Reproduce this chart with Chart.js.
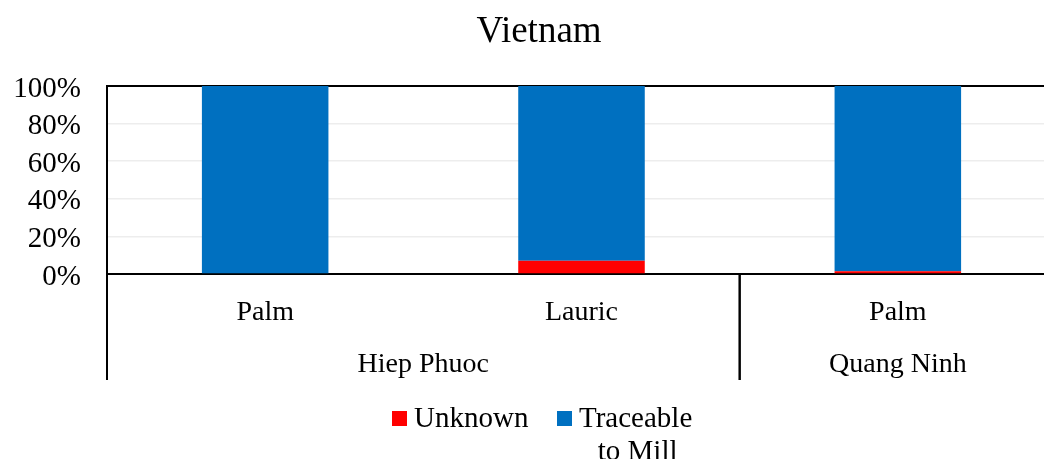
<!DOCTYPE html>
<html><head><meta charset="utf-8">
<script src="https://cdn.jsdelivr.net/npm/chart.js@4/dist/chart.umd.min.js"></script>
<style>html,body{margin:0;padding:0;overflow:hidden;background:#fff;width:1044px;height:459px}#wrap{width:1078px;height:459px;position:relative}</style>
</head><body><div id="wrap"><canvas id="c" width="1078" height="459"></canvas></div>
<script>
const title = "Vietnam";
const categories = ["Palm", "Lauric", "Palm"];
const groups = ["Hiep Phuoc", "Hiep Phuoc", "Quang Ninh"];
const unknownValues = [0, 7, 1.5];
const traceableValues = [100, 93, 98.5];
const seriesNames = ["Unknown", "Traceable\nto Mill"];
const seriesColors = ["#FF0000", "#0070C0"];
const yTicks = [0, 20, 40, 60, 80, 100];

const FONT = "'Liberation Serif', serif";

const multiLevel = {
  id: 'multiLevel',
  afterDraw(chart) {
    const ctx = chart.ctx, x = chart.scales.x, a = chart.chartArea;
    ctx.save();
    ctx.strokeStyle = '#000'; ctx.lineWidth = 2;
    const bottom = 380;
    ctx.fillStyle = '#000'; ctx.textBaseline = 'alphabetic'; ctx.textAlign = 'center';
    // category labels
    ctx.font = '28px ' + FONT;
    categories.forEach((c, i) => ctx.fillText(c, x.getPixelForValue(i), 320));
    // group separators + labels
    const half = (x.getPixelForValue(1) - x.getPixelForValue(0)) / 2;
    let start = 0;
    for (let i = 1; i <= groups.length; i++) {
      if (i === groups.length || groups[i] !== groups[start]) {
        const l = x.getPixelForValue(start) - half, r = x.getPixelForValue(i - 1) + half;
        ctx.beginPath(); ctx.moveTo(l, a.bottom); ctx.lineTo(l, bottom); ctx.stroke();
        if (i < groups.length) { ctx.beginPath(); ctx.moveTo(r, a.bottom); ctx.lineTo(r, bottom); ctx.stroke(); }
        ctx.fillText(groups[start], (l + r) / 2, 372);
        start = i;
      }
    }
    // title
    ctx.font = '37px ' + FONT;
    ctx.fillText(title, 539, 42);
    // legend
    ctx.font = '29px ' + FONT; ctx.textAlign = 'left';
    const items = [{x: 392, t: seriesNames[0], c: seriesColors[0]}, {x: 557, t: seriesNames[1], c: seriesColors[1]}];
    items.forEach(it => {
      ctx.fillStyle = it.c; ctx.fillRect(it.x, 411, 15, 15);
      ctx.fillStyle = '#000';
      const lines = it.t.split('\n');
      const w0 = ctx.measureText(lines[0]).width;
      const tx = it.x + 22;
      lines.forEach((ln, k) => {
        const w = ctx.measureText(ln).width;
        ctx.fillText(ln, tx + (w0 - w) / 2 + (k ? 2 : 0), 427 + k * 33);
      });
    });
    ctx.restore();
  }
};

new Chart(document.getElementById('c'), {
  type: 'bar',
  data: {
    labels: categories,
    datasets: [
      {label: seriesNames[0], data: unknownValues, backgroundColor: seriesColors[0]},
      {label: seriesNames[1], data: traceableValues, backgroundColor: seriesColors[1]}
    ]
  },
  options: {
    responsive: false, animation: false, devicePixelRatio: 1,
    layout: {padding: {top: 86, right: 22, left: 0, bottom: 0}},
    datasets: {bar: {categoryPercentage: 1, barPercentage: 0.4}},
    plugins: {legend: {display: false}, title: {display: false}, tooltip: {enabled: false}},
    scales: {
      x: {
        stacked: true,
        afterFit(s) { s.height = 185; },
        grid: {display: false, drawTicks: false},
        border: {display: true, color: '#000', width: 2},
        ticks: {display: false}
      },
      y: {
        stacked: true, min: 0, max: 100,
        afterFit(s) { s.width = 107; },
        afterBuildTicks(s) { s.ticks = yTicks.map(v => ({value: v})); },
        grid: {drawTicks: false, color: c => (c.tick && (c.tick.value === 100)) ? '#000' : '#ededed', lineWidth: c => (c.tick && c.tick.value === 100) ? 2 : 1.5},
        border: {display: true, color: '#000', width: 2},
        ticks: {autoSkip: false, color: '#000', font: {family: FONT, size: 29}, padding: 26, labelOffset: 3, callback: v => v + '%'}
      }
    }
  },
  plugins: [multiLevel]
});
</script></body></html>
